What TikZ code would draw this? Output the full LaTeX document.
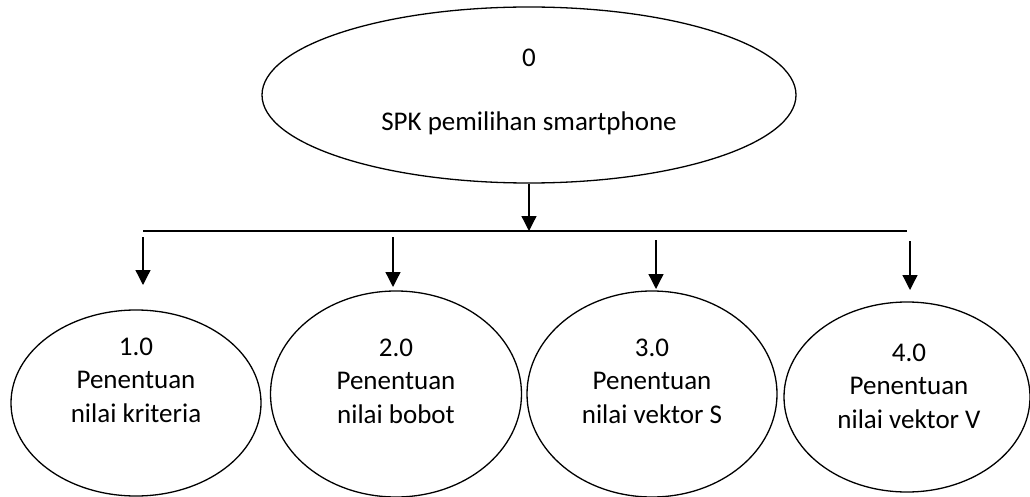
\documentclass[tikz,border=0pt]{standalone}
\usepackage{fontspec}
\setmainfont{Carlito}
\usetikzlibrary{shapes.geometric,arrows.meta}
\begin{document}
\begin{tikzpicture}[x=1pt,y=-1pt,
  proc/.style={draw,ellipse,line width=1.3pt,inner sep=0pt},
  lbl/.style={font=\fontsize{27}{33.5}\selectfont,align=center,anchor=base,inner sep=0pt},
  conn/.style={line width=1.3pt},
  arr/.style={line width=1.3pt,-{Triangle[width=15pt,length=15pt]}}]
\useasboundingbox (0,0) rectangle (1030,497);
% top process
\node[proc,minimum width=534pt,minimum height=176pt] (top) at (529,95) {};
\node[lbl] (t0) at (529,67) {0};
\node[lbl] (t1) at (529,131) {SPK pemilihan smartphone};
% sub processes
\node[proc,minimum width=250pt,minimum height=186pt] (p1) at (136,403) {};
\node[proc,minimum width=251pt,minimum height=206pt] (p2) at (396,394) {};
\node[proc,minimum width=250pt,minimum height=206pt] (p3) at (652,394) {};
\node[proc,minimum width=246pt,minimum height=190pt] (p4) at (907,397) {};
\node[lbl] (l1) at (136,422) {1.0\\Penentuan\\nilai kriteria};
\node[lbl] (l2) at (396,423) {2.0\\Penentuan\\nilai bobot};
\node[lbl] (l3) at (652,423) {3.0\\Penentuan\\nilai vektor S};
\node[lbl] (l4) at (909,428) {4.0\\Penentuan\\nilai vektor V};
% bus line
\coordinate (busL) at (143,231);
\coordinate (busR) at (907,231);
\coordinate (busM) at (529,231);
\draw[conn] (busL) -- (busR);
\draw[arr] (top.south) -- (busM);
% drop arrows
\coordinate (s1) at (143,237); \coordinate (e1) at (143,285);
\coordinate (s2) at (393,237); \coordinate (e2) at (393,287);
\coordinate (s3) at (656,240); \coordinate (e3) at (656,289);
\coordinate (s4) at (910,241); \coordinate (e4) at (910,290);
\draw[arr] (s1) -- (e1);
\draw[arr] (s2) -- (e2);
\draw[arr] (s3) -- (e3);
\draw[arr] (s4) -- (e4);
\end{tikzpicture}
\end{document}
